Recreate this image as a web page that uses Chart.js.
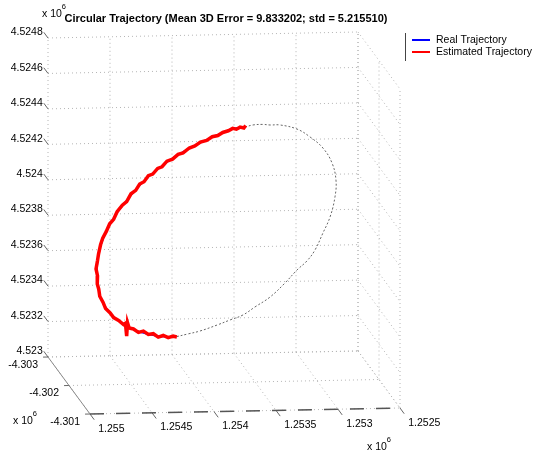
<!DOCTYPE html>
<html lang="en">
<head>
<meta charset="UTF-8">
<title>Circular Trajectory</title>
<script src="https://cdn.jsdelivr.net/npm/chart.js"></script>
<style>
    body { margin: 0; background: #fff; }
    #grafico { display: block; }
</style>
</head>
<body>
<canvas id="grafico" width="537" height="452"></canvas>
<script>
    const titulo = 'Circular Trajectory (Mean 3D Error = 9.833202; std = 5.215510)';
    const legendas = ['Real Trajectory', 'Estimated Trajectory'];

    // axis ticks (metres) and their labels
    const ticksX = [1255000, 1254500, 1254000, 1253500, 1253000, 1252500];
    const ticksY = [-4303000, -4302000, -4301000];
    const ticksZ = [4523000, 4523200, 4523400, 4523600, 4523800, 4524000, 4524200, 4524400, 4524600, 4524800];
    const labelsX = ['1.255', '1.2545', '1.254', '1.2535', '1.253', '1.2525'];
    const labelsY = ['-4.303', '-4.302', '-4.301'];
    const labelsZ = ['4.523', '4.5232', '4.5234', '4.5236', '4.5238', '4.524', '4.5242', '4.5244', '4.5246', '4.5248'];

    // trajectory depth (y) used for every point
    const trajY = -4302000;

    // real trajectory (part covered by the estimate)
    const realX = [1253581, 1253677, 1253806, 1253944, 1254081, 1254210, 1254323, 1254427, 1254532, 1254613,
                   1254694, 1254750, 1254774, 1254766, 1254726, 1254645, 1254532, 1254427, 1254290, 1254145];
    const realZ = [4524439, 4524430, 4524397, 4524354, 4524305, 4524250, 4524190, 4524124, 4524040, 4523968,
                   4523873, 4523772, 4523660, 4523547, 4523462, 4523387, 4523329, 4523294, 4523270, 4523262];

    // rest of the circle
    const circX = [1253581, 1253516, 1253436, 1253379, 1253298, 1253161, 1253056, 1252952, 1252879, 1252847,
                   1252855, 1252895, 1252952, 1253016, 1253081, 1253161, 1253258, 1253379, 1253500, 1253597,
                   1253702, 1253806, 1253944, 1254040, 1254145];
    const circZ = [4524439, 4524450, 4524452, 4524448, 4524447, 4524422, 4524376, 4524312, 4524227, 4524130,
                   4524035, 4523922, 4523833, 4523738, 4523677, 4523627, 4523555, 4523477, 4523423, 4523379,
                   4523352, 4523325, 4523293, 4523278, 4523262];

    // estimated trajectory (noisy)
    const estX = [1253575, 1253590, 1253620, 1253650, 1253680, 1253715, 1253760, 1253800, 1253845, 1253890,
                  1253940, 1253985, 1254030, 1254080, 1254120, 1254165, 1254210, 1254250, 1254285, 1254325,
                  1254360, 1254395, 1254430, 1254462, 1254500, 1254535, 1254570, 1254612, 1254640, 1254672,
                  1254700, 1254728, 1254745, 1254762, 1254770, 1254782, 1254770, 1254772, 1254760, 1254752,
                  1254725, 1254705, 1254668, 1254640, 1254600, 1254560, 1254545, 1254535, 1254528, 1254515,
                  1254480, 1254440, 1254400, 1254360, 1254320, 1254280, 1254240, 1254200, 1254160, 1254130];
    const estZ = [4524448, 4524434, 4524439, 4524428, 4524433, 4524420, 4524411, 4524394, 4524388, 4524368,
                  4524359, 4524338, 4524327, 4524300, 4524292, 4524266, 4524255, 4524224, 4524215, 4524184,
                  4524175, 4524142, 4524129, 4524094, 4524075, 4524032, 4524012, 4523975, 4523933, 4523908,
                  4523864, 4523828, 4523792, 4523738, 4523702, 4523655, 4523615, 4523570, 4523540, 4523500,
                  4523465, 4523430, 4523405, 4523378, 4523362, 4523338, 4523345, 4523272, 4523348, 4523318,
                  4523312, 4523292, 4523299, 4523279, 4523283, 4523263, 4523272, 4523259, 4523267, 4523262];

    // 3D box -> flat view (orthographic, matlab-like)
    const caixa = { ox: 48, oy: 357, vx: [310, -6], vy: [42, 57], vz: [0, -319] };
    const x0 = ticksX[0], xN = ticksX[ticksX.length - 1];
    const y0 = ticksY[0], yN = ticksY[ticksY.length - 1];
    const z0 = ticksZ[0], zN = ticksZ[ticksZ.length - 1];

    function projetar(x, y, z) {
        const a = (x0 - x) / (x0 - xN);
        const b = (y - y0) / (yN - y0);
        const c = (z - z0) / (zN - z0);
        return {
            x: caixa.ox + a * caixa.vx[0] + b * caixa.vy[0] + c * caixa.vz[0],
            y: caixa.oy + a * caixa.vx[1] + b * caixa.vy[1] + c * caixa.vz[1]
        };
    }

    const datasets = [];
    const estiloGrade = { borderColor: '#b4b4b4', borderWidth: 1, borderDash: [1, 3], order: 10 };
    const estiloTick = { borderColor: '#666', borderWidth: 1, order: 9 };

    function segmento(a, b, estilo) {
        datasets.push(Object.assign({ data: [projetar(...a), projetar(...b)], showLine: true, pointRadius: 0 }, estilo));
    }

    // back wall, right wall and floor grids
    ticksX.forEach(x => segmento([x, y0, z0], [x, y0, zN], estiloGrade));
    ticksZ.forEach(z => segmento([x0, y0, z], [xN, y0, z], estiloGrade));
    ticksY.forEach(y => segmento([xN, y, z0], [xN, y, zN], estiloGrade));
    ticksZ.forEach(z => segmento([xN, y0, z], [xN, yN, z], estiloGrade));
    ticksX.forEach(x => segmento([x, y0, z0], [x, yN, z0], estiloGrade));
    ticksY.forEach(y => segmento([x0, y, z0], [xN, y, z0], estiloGrade));

    // axis lines
    segmento([x0, y0, z0], [x0, yN, z0], { borderColor: '#888', borderWidth: 1, order: 8 });
    segmento([x0, yN, z0], [xN, yN, z0], { borderColor: '#555', borderWidth: 1.5, borderDash: [14, 12], order: 8 });

    // tick marks
    ticksZ.forEach(z => segmento([x0, y0, z], [x0, y0 - 200, z], estiloTick));
    ticksX.forEach(x => segmento([x, yN, z0], [x, yN + 200, z0], estiloTick));
    ticksY.forEach(y => segmento([x0, y, z0], [x0 + 40, y, z0], estiloTick));

    // trajectories
    datasets.push({
        label: 'circle',
        data: circX.map((x, i) => projetar(x, trajY, circZ[i])),
        showLine: true, pointRadius: 0, tension: 0.4,
        borderColor: '#666', borderWidth: 1, borderDash: [2, 2], order: 3
    });
    datasets.push({
        label: legendas[0],
        data: realX.map((x, i) => projetar(x, trajY, realZ[i])),
        showLine: true, pointRadius: 0, tension: 0.4,
        borderColor: '#0000ff', borderWidth: 1.5, order: 2
    });
    datasets.push({
        label: legendas[1],
        data: estX.map((x, i) => projetar(x, trajY, estZ[i])),
        showLine: true, pointRadius: 0,
        borderColor: '#ff0000', borderWidth: 3.5, order: 1
    });

    const fonte = '10.5px "Liberation Sans", Arial, sans-serif';

    function vezesDez(ctx, x, y) {
        ctx.font = fonte;
        ctx.textAlign = 'left';
        ctx.textBaseline = 'middle';
        ctx.fillText('x 10', x, y);
        const w = ctx.measureText('x 10').width;
        ctx.font = '7.5px "Liberation Sans", Arial, sans-serif';
        ctx.fillText('6', x + w, y - 7);
    }

    const textos = {
        id: 'textos',
        afterDraw(chart) {
            const ctx = chart.ctx;
            const sx = chart.scales.x, sy = chart.scales.y;
            const tela = p => ({ x: sx.getPixelForValue(p.x), y: sy.getPixelForValue(p.y) });
            ctx.save();
            ctx.fillStyle = '#000';
            ctx.font = fonte;

            ctx.textAlign = 'right';
            ctx.textBaseline = 'middle';
            ticksZ.forEach((z, i) => {
                const p = tela(projetar(x0, y0 - 200, z));
                ctx.fillText(labelsZ[i], p.x - 1, p.y);
            });
            ticksY.forEach((y, i) => {
                const p = tela(projetar(x0 + 40, y, z0));
                ctx.fillText(labelsY[i], p.x - 5, p.y + 8);
            });
            ctx.textAlign = 'left';
            ticksX.forEach((x, i) => {
                const p = tela(projetar(x, yN + 200, z0));
                ctx.fillText(labelsX[i], p.x + 4, p.y + 9);
            });

            vezesDez(ctx, 42, 14);
            vezesDez(ctx, 13, 421);
            vezesDez(ctx, 367, 447);

            // title
            ctx.font = 'bold 11px "Liberation Sans", Arial, sans-serif';
            ctx.textAlign = 'center';
            ctx.fillText(titulo, 226, 19);

            // legend
            ctx.strokeStyle = '#444';
            ctx.lineWidth = 1;
            ctx.beginPath();
            ctx.moveTo(405.5, 33);
            ctx.lineTo(405.5, 61);
            ctx.stroke();
            const itens = chart.data.datasets.filter(d => legendas.includes(d.label))
                .sort((a, b) => legendas.indexOf(a.label) - legendas.indexOf(b.label));
            ctx.font = fonte;
            ctx.textAlign = 'left';
            itens.forEach((d, i) => {
                const y = 40 + i * 12;
                ctx.strokeStyle = d.borderColor;
                ctx.lineWidth = 2;
                ctx.beginPath();
                ctx.moveTo(412, y);
                ctx.lineTo(430, y);
                ctx.stroke();
                ctx.fillText(d.label, 436, y);
            });
            ctx.restore();
        }
    };

    new Chart(document.getElementById('grafico'), {
        type: 'scatter',
        data: { datasets: datasets },
        options: {
            responsive: false,
            animation: false,
            layout: { padding: 0 },
            scales: {
                x: { type: 'linear', min: 0, max: 537, display: false },
                y: { type: 'linear', min: 0, max: 452, reverse: true, display: false }
            },
            plugins: {
                legend: { display: false },
                tooltip: { enabled: false }
            }
        },
        plugins: [textos]
    });
</script>
</body>
</html>
